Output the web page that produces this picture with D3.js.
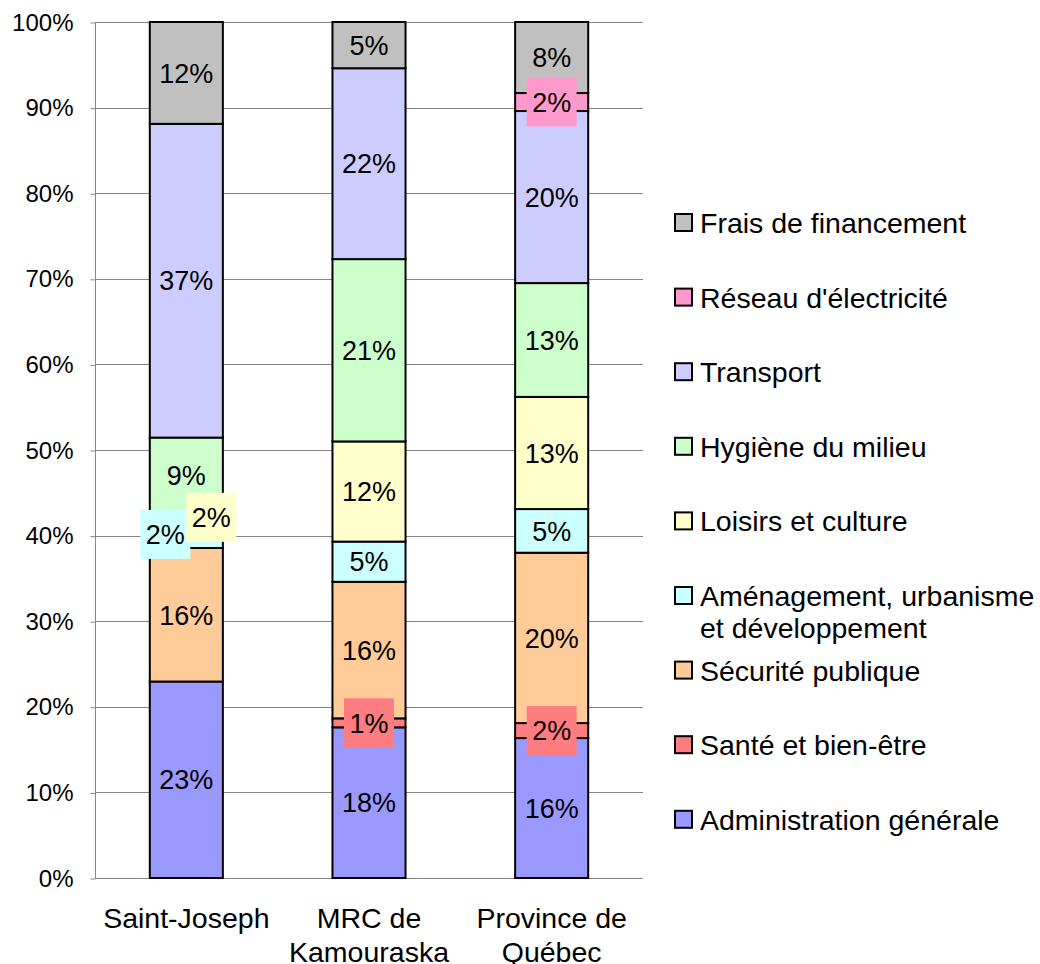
<!DOCTYPE html>
<html>
<head>
<meta charset="utf-8">
<script src="https://cdn.jsdelivr.net/npm/d3@7"></script>
<style>
  html, body { margin: 0; padding: 0; background: #ffffff; }
  svg { display: block; }
  text { font-family: "Liberation Sans", Arial, sans-serif; }
</style>
</head>
<body>
<script>
// ---------- data ----------
const categories = ["Saint-Joseph", "MRC de Kamouraska", "Province de Québec"];
const categoryLines = [["Saint-Joseph"], ["MRC de", "Kamouraska"], ["Province de", "Québec"]];
const seriesNames = [
  "Administration générale",
  "Santé et bien-être",
  "Sécurité publique",
  "Aménagement, urbanisme et développement",
  "Loisirs et culture",
  "Hygiène du milieu",
  "Transport",
  "Réseau d'électricité",
  "Frais de financement"
];
const legendLines = [
  ["Administration générale"],
  ["Santé et bien-être"],
  ["Sécurité publique"],
  ["Aménagement, urbanisme", "et développement"],
  ["Loisirs et culture"],
  ["Hygiène du milieu"],
  ["Transport"],
  ["Réseau d'électricité"],
  ["Frais de financement"]
];
const seriesColors = ["#9999FF", "#FF7C80", "#FFCC99", "#CCFFFF", "#FFFFCC", "#CCFFCC", "#CCCCFF", "#FF99CC", "#C0C0C0"];

const administration = [22.95, 17.6, 16.35];
const sante          = [0,     1.05, 1.75];
const securite       = [15.6,  15.95, 19.9];
const amenagement    = [2.0,   4.7,  5.1];
const loisirs        = [2.0,   11.7, 13.1];
const hygiene        = [8.9,   21.3, 13.3];
const transport      = [36.65, 22.3, 20.1];
const reseau         = [0,     0,    2.1];
const frais          = [11.9,  5.4,  8.3];
const seriesValues = [administration, sante, securite, amenagement, loisirs, hygiene, transport, reseau, frais];

const yTicks = [0, 10, 20, 30, 40, 50, 60, 70, 80, 90, 100];

// label nudges (px) for crowded small segments: [seriesIndex, categoryIndex, dx, dy]
const labelNudges = [[3, 0, -21, -5], [4, 0, 25, -5]];

// ---------- layout ----------
const W = 1040, H = 964;
const plot = { left: 95, right: 643, top: 22, bottom: 878 };
const TICK_FONT = 24, LABEL_FONT = 27, BIG_FONT = 28.5;

const svg = d3.select("body").append("svg").attr("width", W).attr("height", H);

const x = d3.scaleBand().domain(categories).range([plot.left, plot.right]).padding(0);
const y = d3.scaleLinear().domain([0, 100]).range([plot.bottom, plot.top]);
const barW = x.bandwidth() / 2.5;

// gridlines
svg.append("g").selectAll("line").data(yTicks.filter(t => t > 0)).join("line")
  .attr("x1", plot.left).attr("x2", plot.right)
  .attr("y1", d => Math.round(y(d)) + 0.5).attr("y2", d => Math.round(y(d)) + 0.5)
  .attr("stroke", "#868686").attr("stroke-width", 1);

// y axis
const yAxis = d3.axisLeft(y).tickValues(yTicks).tickFormat(d => d + "%").tickSize(5).tickPadding(17);
const yg = svg.append("g").attr("transform", `translate(${plot.left + 0.5},0.5)`).call(yAxis);
yg.select(".domain").attr("stroke", "#868686").attr("d", `M0,${plot.top}V${plot.bottom}`);
yg.selectAll(".tick line").attr("stroke", "#868686");
yg.selectAll(".tick text").attr("font-size", TICK_FONT).attr("fill", "#000")
  .attr("font-family", "Liberation Sans, Arial, sans-serif");

// x axis line
svg.append("line").attr("x1", plot.left).attr("x2", plot.right)
  .attr("y1", plot.bottom + 0.5).attr("y2", plot.bottom + 0.5)
  .attr("stroke", "#868686").attr("stroke-width", 1);

// stacked data
const stackInput = categories.map((c, ci) => {
  const o = { cat: c };
  seriesNames.forEach((s, si) => { o[s] = seriesValues[si][ci]; });
  return o;
});
const stacked = d3.stack().keys(seriesNames)(stackInput);

// bars
const barsG = svg.append("g");
stacked.forEach((layer, si) => {
  barsG.selectAll(null).data(layer.filter(d => d[1] - d[0] > 0)).join("rect")
    .attr("x", d => x(d.data.cat) + x.bandwidth() / 2 - barW / 2)
    .attr("y", d => y(d[1]))
    .attr("width", barW)
    .attr("height", d => y(d[0]) - y(d[1]))
    .attr("fill", seriesColors[si])
    .attr("stroke", "#000").attr("stroke-width", 2);
});

// labels
const labelsG = svg.append("g");
stacked.forEach((layer, si) => {
  layer.forEach((d, ci) => {
    const v = d[1] - d[0];
    if (v <= 0) return;
    const nudge = labelNudges.find(n => n[0] === si && n[1] === ci);
    const cx = x(d.data.cat) + x.bandwidth() / 2 + (nudge ? nudge[2] : 0);
    const cy = (y(d[0]) + y(d[1])) / 2 + (nudge ? nudge[3] : 0);
    const txt = Math.round(v) + "%";
    if (v < 3) {
      labelsG.append("rect")
        .attr("x", cx - 25).attr("y", cy - 24.5).attr("width", 50).attr("height", 49)
        .attr("fill", seriesColors[si]);
    }
    labelsG.append("text").attr("x", cx).attr("y", cy).attr("dy", "0.36em")
      .attr("text-anchor", "middle").attr("font-size", LABEL_FONT).attr("fill", "#000").text(txt);
  });
});

// category labels
categories.forEach((c, ci) => {
  const t = svg.append("text").attr("text-anchor", "middle").attr("font-size", BIG_FONT).attr("fill", "#000");
  categoryLines[ci].forEach((ln, li) => {
    t.append("tspan").attr("x", x(c) + x.bandwidth() / 2).attr("y", 918 + li * 34).attr("dy", "0.35em").text(ln);
  });
});

// legend (reverse order)
const legendTop = 223, legendStep = 74.6;
const order = d3.range(seriesNames.length).reverse();
order.forEach((si, k) => {
  const cy = legendTop + k * legendStep;
  svg.append("rect").attr("x", 675).attr("y", cy - 9).attr("width", 17).attr("height", 17)
    .attr("fill", seriesColors[si]).attr("stroke", "#000").attr("stroke-width", 2);
  const t = svg.append("text").attr("font-size", BIG_FONT).attr("fill", "#000");
  legendLines[si].forEach((ln, li) => {
    t.append("tspan").attr("x", 700).attr("y", cy + li * 32).attr("dy", "0.35em").text(ln);
  });
});
</script>
</body>
</html>
